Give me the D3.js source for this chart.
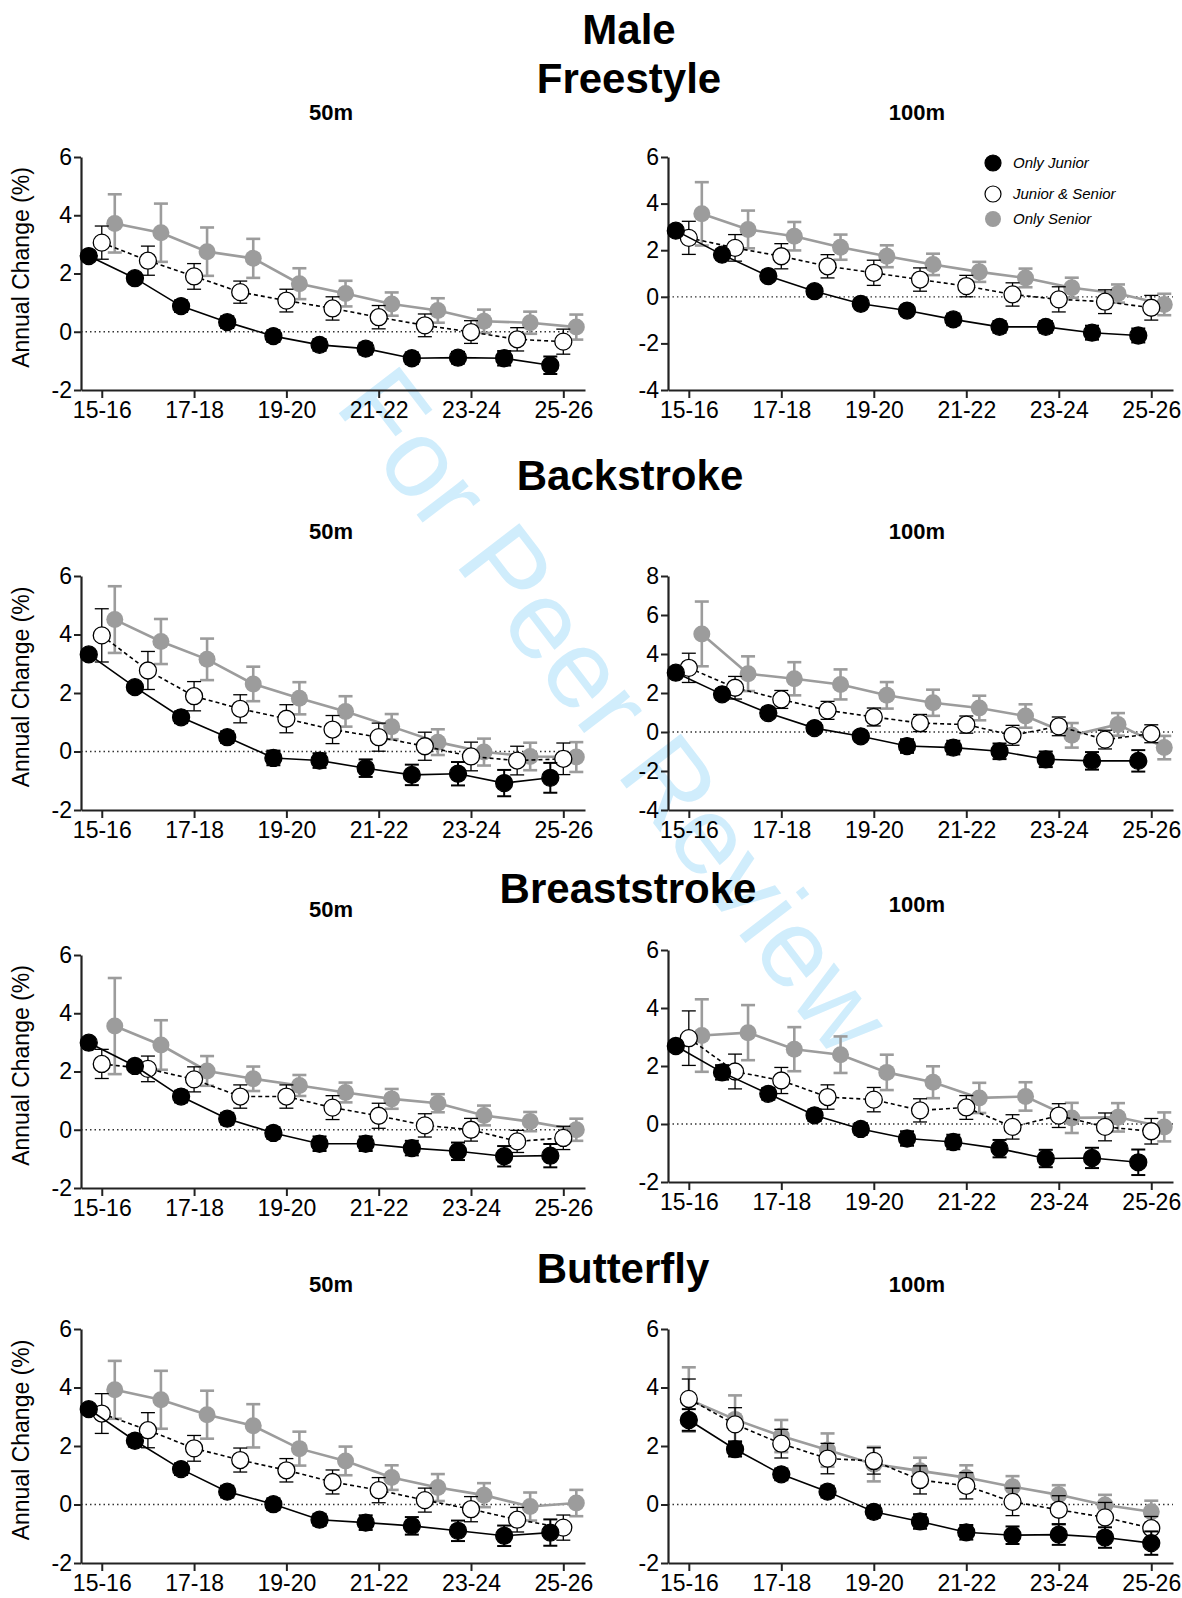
<!DOCTYPE html>
<html lang="en">
<head>
<meta charset="UTF-8">
<title>Male - Annual Change by Age</title>
<script src="https://cdnjs.cloudflare.com/ajax/libs/d3/7.8.5/d3.min.js"></script>
<style>
  body { margin: 0; background: #fff; }
  svg { display: block; font-family: "Liberation Sans", Arial, sans-serif; }
</style>
</head>
<body>
<svg id="chart" width="1182" height="1598"></svg>
<script>
// age groups (x categories) and the labelled ticks
const ageGroups = ["15-16","16-17","17-18","18-19","19-20","20-21","21-22","22-23","23-24","24-25","25-26"];
const tickLabels = ["15-16","17-18","19-20","21-22","23-24","25-26"];
const seriesNames = ["Only Junior", "Junior & Senior", "Only Senior"];

// Freestyle 50m
const free50Junior = [2.6, 1.84, 0.88, 0.33, -0.15, -0.45, -0.58, -0.91, -0.89, -0.91, -1.15];
const free50JuniorErr = [0.1, 0.15, 0.2, 0.2, 0.2, 0.2, 0.2, 0.2, 0.2, 0.25, 0.3];
const free50Both = [3.06, 2.44, 1.9, 1.36, 1.07, 0.8, 0.5, 0.22, -0.01, -0.26, -0.34];
const free50BothErr = [0.57, 0.5, 0.44, 0.38, 0.39, 0.4, 0.4, 0.39, 0.39, 0.4, 0.43];
const free50Senior = [3.72, 3.4, 2.75, 2.52, 1.65, 1.31, 0.95, 0.73, 0.36, 0.31, 0.16];
const free50SeniorErr = [1.0, 1.0, 0.83, 0.67, 0.53, 0.44, 0.4, 0.42, 0.4, 0.38, 0.43];

// Freestyle 100m
const free100Junior = [2.84, 1.81, 0.89, 0.24, -0.3, -0.59, -0.97, -1.29, -1.29, -1.54, -1.66];
const free100JuniorErr = [0.2, 0.2, 0.2, 0.2, 0.2, 0.2, 0.25, 0.25, 0.25, 0.3, 0.3];
const free100Both = [2.53, 2.1, 1.74, 1.31, 1.03, 0.74, 0.46, 0.1, -0.11, -0.21, -0.47];
const free100BothErr = [0.71, 0.57, 0.54, 0.5, 0.54, 0.5, 0.46, 0.5, 0.54, 0.51, 0.53];
const free100Senior = [3.56, 2.89, 2.6, 2.13, 1.74, 1.39, 1.07, 0.81, 0.39, 0.14, -0.33];
const free100SeniorErr = [1.36, 0.81, 0.61, 0.54, 0.47, 0.46, 0.43, 0.4, 0.43, 0.39, 0.46];

// Backstroke 50m
const back50Junior = [3.32, 2.2, 1.17, 0.49, -0.22, -0.31, -0.57, -0.8, -0.76, -1.08, -0.9];
const back50JuniorErr = [0.15, 0.1, 0.2, 0.2, 0.25, 0.25, 0.3, 0.35, 0.4, 0.45, 0.51];
const back50Both = [3.97, 2.77, 1.89, 1.46, 1.12, 0.75, 0.49, 0.18, -0.17, -0.31, -0.25];
const back50BothErr = [0.91, 0.65, 0.5, 0.48, 0.48, 0.48, 0.48, 0.48, 0.49, 0.49, 0.54];
const back50Senior = [4.51, 3.76, 3.15, 2.31, 1.82, 1.37, 0.85, 0.32, -0.02, -0.17, -0.19];
const back50SeniorErr = [1.14, 0.77, 0.71, 0.59, 0.55, 0.52, 0.43, 0.44, 0.46, 0.47, 0.51];

// Backstroke 100m
const back100Junior = [3.04, 1.93, 0.97, 0.2, -0.22, -0.72, -0.8, -0.99, -1.4, -1.48, -1.48];
const back100JuniorErr = [0.15, 0.25, 0.25, 0.25, 0.25, 0.35, 0.35, 0.4, 0.4, 0.45, 0.55];
const back100Both = [3.29, 2.27, 1.67, 1.11, 0.77, 0.46, 0.38, -0.17, 0.29, -0.39, -0.09];
const back100BothErr = [0.75, 0.58, 0.46, 0.46, 0.46, 0.44, 0.44, 0.51, 0.48, 0.48, 0.46];
const back100Senior = [5.03, 2.99, 2.73, 2.44, 1.88, 1.5, 1.23, 0.82, -0.17, 0.39, -0.8];
const back100SeniorErr = [1.66, 0.89, 0.85, 0.77, 0.68, 0.67, 0.63, 0.6, 0.63, 0.58, 0.6];

// Breaststroke 50m
const breast50Junior = [2.99, 2.19, 1.14, 0.38, -0.11, -0.48, -0.48, -0.63, -0.74, -0.91, -0.89];
const breast50JuniorErr = [0.1, 0.15, 0.2, 0.2, 0.2, 0.25, 0.25, 0.25, 0.3, 0.35, 0.4];
const breast50Both = [2.26, 2.09, 1.73, 1.14, 1.14, 0.76, 0.48, 0.15, 0.0, -0.4, -0.28];
const breast50BothErr = [0.5, 0.44, 0.43, 0.4, 0.4, 0.41, 0.43, 0.4, 0.39, 0.38, 0.4];
const breast50Senior = [3.56, 2.91, 2.02, 1.75, 1.52, 1.28, 1.06, 0.91, 0.49, 0.28, 0.0];
const breast50SeniorErr = [1.65, 0.85, 0.51, 0.42, 0.36, 0.34, 0.34, 0.31, 0.34, 0.33, 0.38];

// Breaststroke 100m
const breast100Junior = [2.69, 1.78, 1.04, 0.3, -0.17, -0.5, -0.62, -0.85, -1.19, -1.17, -1.32];
const breast100JuniorErr = [0.15, 0.25, 0.2, 0.2, 0.2, 0.25, 0.25, 0.3, 0.3, 0.35, 0.44];
const breast100Both = [2.96, 1.81, 1.5, 0.93, 0.84, 0.47, 0.57, -0.1, 0.29, -0.1, -0.25];
const breast100BothErr = [0.94, 0.6, 0.45, 0.42, 0.42, 0.4, 0.41, 0.42, 0.41, 0.48, 0.44];
const breast100Senior = [3.05, 3.15, 2.58, 2.39, 1.78, 1.44, 0.9, 0.95, 0.21, 0.23, -0.1];
const breast100SeniorErr = [1.25, 0.95, 0.76, 0.63, 0.61, 0.55, 0.52, 0.49, 0.52, 0.49, 0.5];

// Butterfly 50m
const fly50Junior = [3.26, 2.18, 1.21, 0.44, 0.01, -0.52, -0.62, -0.73, -0.9, -1.07, -0.96];
const fly50JuniorErr = [0.1, 0.2, 0.2, 0.2, 0.2, 0.2, 0.25, 0.3, 0.35, 0.35, 0.45];
const fly50Both = [3.11, 2.54, 1.92, 1.52, 1.17, 0.77, 0.49, 0.15, -0.16, -0.52, -0.79];
const fly50BothErr = [0.68, 0.6, 0.44, 0.41, 0.4, 0.41, 0.43, 0.41, 0.43, 0.42, 0.43];
const fly50Senior = [3.92, 3.58, 3.07, 2.69, 1.91, 1.49, 0.92, 0.58, 0.32, -0.07, 0.05];
const fly50SeniorErr = [0.99, 0.99, 0.82, 0.74, 0.58, 0.49, 0.42, 0.46, 0.41, 0.48, 0.45];

// Butterfly 100m
const fly100Junior = [2.89, 1.89, 1.03, 0.44, -0.25, -0.58, -0.95, -1.05, -1.03, -1.13, -1.32];
const fly100JuniorErr = [0.37, 0.25, 0.2, 0.2, 0.2, 0.25, 0.25, 0.3, 0.35, 0.35, 0.4];
const fly100Both = [3.61, 2.74, 2.08, 1.57, 1.49, 0.84, 0.64, 0.09, -0.18, -0.44, -0.81];
const fly100BothErr = [0.68, 0.57, 0.49, 0.52, 0.45, 0.48, 0.45, 0.47, 0.48, 0.51, 0.4];
const fly100Senior = [3.59, 2.91, 2.34, 1.86, 1.38, 1.15, 0.92, 0.61, 0.33, -0.02, -0.25];
const fly100SeniorErr = [1.1, 0.82, 0.55, 0.57, 0.59, 0.45, 0.42, 0.36, 0.33, 0.35, 0.38];

const panels = [
  { dist: "50m",  col: 0, top: 157,  bottom: 390,  yDomain: [-2, 6], dodge: true,
    values: [free50Junior, free50Both, free50Senior], errors: [free50JuniorErr, free50BothErr, free50SeniorErr] },
  { dist: "100m", col: 1, top: 157,  bottom: 390,  yDomain: [-4, 6], dodge: true, legend: true,
    values: [free100Junior, free100Both, free100Senior], errors: [free100JuniorErr, free100BothErr, free100SeniorErr] },
  { dist: "50m",  col: 0, top: 576,  bottom: 810,  yDomain: [-2, 6], dodge: true,
    values: [back50Junior, back50Both, back50Senior], errors: [back50JuniorErr, back50BothErr, back50SeniorErr] },
  { dist: "100m", col: 1, top: 576,  bottom: 810,  yDomain: [-4, 8], dodge: true,
    values: [back100Junior, back100Both, back100Senior], errors: [back100JuniorErr, back100BothErr, back100SeniorErr] },
  { dist: "50m",  col: 0, top: 955,  bottom: 1188, yDomain: [-2, 6], dodge: true,
    values: [breast50Junior, breast50Both, breast50Senior], errors: [breast50JuniorErr, breast50BothErr, breast50SeniorErr] },
  { dist: "100m", col: 1, top: 950,  bottom: 1182, yDomain: [-2, 6], dodge: true,
    values: [breast100Junior, breast100Both, breast100Senior], errors: [breast100JuniorErr, breast100BothErr, breast100SeniorErr] },
  { dist: "50m",  col: 0, top: 1329, bottom: 1563, yDomain: [-2, 6], dodge: true,
    values: [fly50Junior, fly50Both, fly50Senior], errors: [fly50JuniorErr, fly50BothErr, fly50SeniorErr] },
  { dist: "100m", col: 1, top: 1329, bottom: 1563, yDomain: [-2, 6], dodge: false,
    values: [fly100Junior, fly100Both, fly100Senior], errors: [fly100JuniorErr, fly100BothErr, fly100SeniorErr] }
];

const headings = [
  { text: "Male", x: 629, y: 44 },
  { text: "Freestyle", x: 629, y: 93 },
  { text: "Backstroke", x: 630, y: 490 },
  { text: "Breaststroke", x: 628, y: 903 },
  { text: "Butterfly", x: 623, y: 1283 }
];
const distLabelY = [120, 120, 539, 539, 917, 912, 1292, 1292];

const cols = [{ left: 81, right: 585, labelX: 331 }, { left: 668, right: 1173, labelX: 917 }];

// series style: Only Junior, Junior & Senior, Only Senior
const styles = [
  { fill: "#000", stroke: "#000", line: "#000", lw: 1.6, dash: null, err: "#000", ew: 2, offset: -13 },
  { fill: "#fff", stroke: "#000", line: "#000", lw: 1.6, dash: "4,3", err: "#000", ew: 1.3, offset: 0 },
  { fill: "#9c9c9c", stroke: "none", line: "#9c9c9c", lw: 2.6, dash: null, err: "#9c9c9c", ew: 2.6, offset: 13 }
];
const drawOrder = [2, 1, 0];
const R = 8.5;

const svg = d3.select("#chart");

// watermark
svg.append("text")
  .attr("transform", "translate(608,716) rotate(52.5)")
  .attr("text-anchor", "middle")
  .attr("dominant-baseline", "middle")
  .attr("font-size", 111)
  .attr("fill", "#d0edfc")
  .text("For Peer Review");

svg.selectAll("text.heading")
  .data(headings)
  .enter().append("text")
  .attr("class", "heading")
  .attr("x", d => d.x).attr("y", d => d.y)
  .attr("text-anchor", "middle")
  .attr("font-size", 42).attr("font-weight", "bold")
  .text(d => d.text);

panels.forEach((p, pi) => {
  const c = cols[p.col];
  const x = d3.scaleLinear().domain([-0.45, 10.47]).range([c.left, c.right]);
  const y = d3.scaleLinear().domain(p.yDomain).range([p.bottom, p.top]);
  const g = svg.append("g");

  g.append("text")
    .attr("x", c.labelX).attr("y", distLabelY[pi])
    .attr("text-anchor", "middle")
    .attr("font-size", 22).attr("font-weight", "bold")
    .text(p.dist);

  // zero line
  g.append("line")
    .attr("x1", c.left).attr("x2", c.right)
    .attr("y1", y(0)).attr("y2", y(0))
    .attr("stroke", "#333").attr("stroke-width", 1.3)
    .attr("stroke-dasharray", "1.5,3");

  const yAxis = g.append("g")
    .attr("transform", `translate(${c.left},0)`)
    .call(d3.axisLeft(y).tickValues(d3.range(p.yDomain[0], p.yDomain[1] + 1, 2))
      .tickFormat(d => String(d)).tickSize(7).tickSizeOuter(0).tickPadding(2));
  const xAxis = g.append("g")
    .attr("transform", `translate(0,${p.bottom})`)
    .call(d3.axisBottom(x).tickValues([0, 2, 4, 6, 8, 10])
      .tickFormat((d, i) => tickLabels[i]).tickSize(8).tickSizeOuter(0).tickPadding(4));
  [yAxis, xAxis].forEach(a => {
    a.select(".domain").attr("stroke", "#222").attr("stroke-width", 2.2);
    a.selectAll(".tick line").attr("stroke", "#222").attr("stroke-width", 2);
    a.selectAll("text").attr("font-size", 23).attr("fill", "#000")
      .attr("font-family", "'Liberation Sans', Arial, sans-serif");
  });

  if (p.col === 0) {
    g.append("text")
      .attr("transform", `translate(29,${(p.top + p.bottom) / 2 - 6}) rotate(-90)`)
      .attr("text-anchor", "middle")
      .attr("font-size", 23)
      .text("Annual Change (%)");
  }

  drawOrder.forEach(si => {
    const s = styles[si];
    const off = p.dodge ? s.offset : 0;
    const pts = ageGroups.map((a, i) => ({ i, v: p.values[si][i], e: p.errors[si][i] }));
    const sg = g.append("g");

    sg.append("path")
      .datum(pts)
      .attr("fill", "none")
      .attr("stroke", s.line).attr("stroke-width", s.lw)
      .attr("stroke-dasharray", s.dash)
      .attr("d", d3.line().x(d => x(d.i) + off).y(d => y(d.v)));

    const eb = sg.selectAll("g.err").data(pts).enter().append("g")
      .attr("stroke", s.err).attr("stroke-width", s.ew);
    eb.append("line")
      .attr("x1", d => x(d.i) + off).attr("x2", d => x(d.i) + off)
      .attr("y1", d => y(d.v - d.e)).attr("y2", d => y(d.v + d.e));
    eb.append("line")
      .attr("x1", d => x(d.i) + off - 7).attr("x2", d => x(d.i) + off + 7)
      .attr("y1", d => y(d.v + d.e)).attr("y2", d => y(d.v + d.e));
    eb.append("line")
      .attr("x1", d => x(d.i) + off - 7).attr("x2", d => x(d.i) + off + 7)
      .attr("y1", d => y(d.v - d.e)).attr("y2", d => y(d.v - d.e));

    sg.selectAll("circle").data(pts).enter().append("circle")
      .attr("cx", d => x(d.i) + off).attr("cy", d => y(d.v))
      .attr("r", R)
      .attr("fill", s.fill)
      .attr("stroke", s.stroke).attr("stroke-width", 1.3);
  });

  if (p.legend) {
    const lg = g.append("g");
    const ly = [163, 194, 219];
    seriesNames.forEach((n, i) => {
      lg.append("circle").attr("cx", 993).attr("cy", ly[i]).attr("r", 8)
        .attr("fill", styles[i].fill).attr("stroke", styles[i].stroke).attr("stroke-width", 1.2);
      lg.append("text").attr("x", 1013).attr("y", ly[i] + 5)
        .attr("font-size", 15).attr("font-style", "italic").text(n);
    });
  }
});
</script>
</body>
</html>
